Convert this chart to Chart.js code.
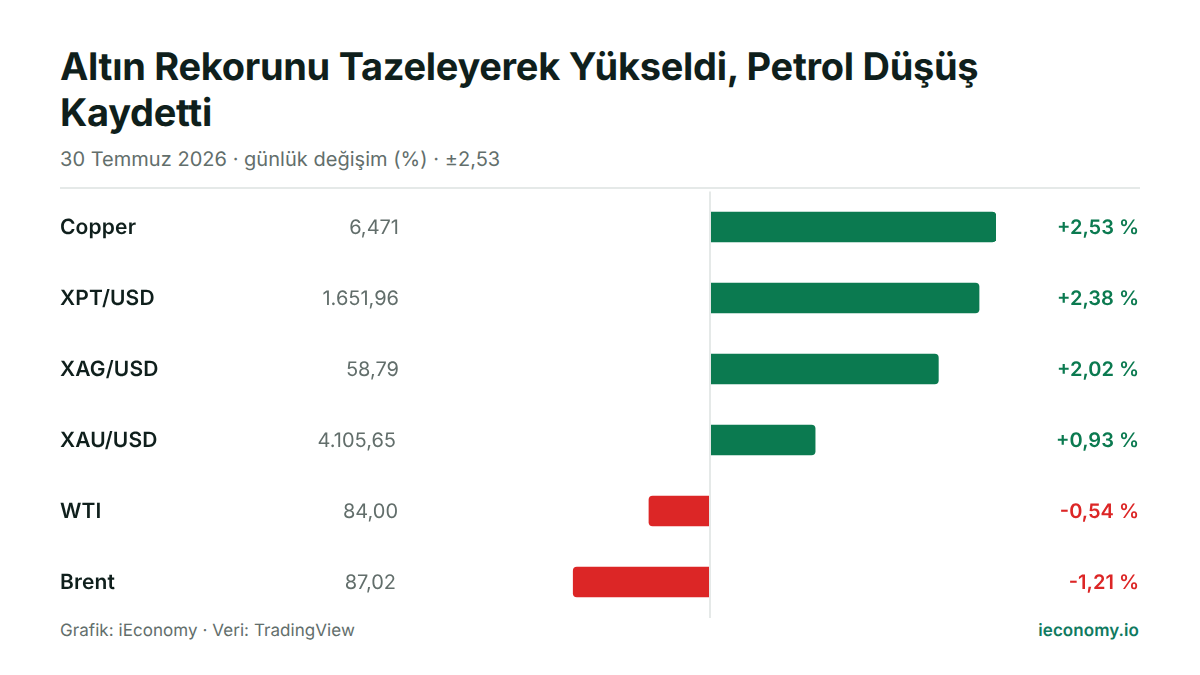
<!DOCTYPE html>
<html lang="tr">
<head>
<meta charset="utf-8">
<title>Altın Rekorunu Tazeleyerek Yükseldi, Petrol Düşüş Kaydetti</title>
<script src="https://cdn.jsdelivr.net/npm/chart.js@4"></script>
<style>
  html, body { margin: 0; padding: 0; background: #fff; }
  body { width: 1200px; height: 675px; position: relative; overflow: hidden; font-family: Inter, sans-serif; text-rendering: geometricPrecision; }
  h1 { position: absolute; left: 60px; top: 45px; width: 1000px; margin: 0; font-size: 38px; line-height: 45.6px; font-weight: 700; color: #0f1f1c; letter-spacing: -0.3px; }
  .sub { position: absolute; left: 60px; top: 147px; font-size: 20px; line-height: 24px; color: #626e6b; letter-spacing: 0.03px; }
  .rule { position: absolute; left: 60px; top: 187px; width: 1080px; height: 2px; background: #e5e9e8; }
  .src { position: absolute; left: 60px; top: 621px; font-size: 17px; line-height: 20px; color: #626e6b; letter-spacing: 0.06px; }
  .brand { position: absolute; right: 61px; top: 621px; font-size: 17px; line-height: 20px; font-weight: 600; color: #0f7a5f; letter-spacing: 0.06px; }
  #wrap { position: absolute; left: 0; top: 191px; width: 1200px; height: 427px; }
</style>
</head>
<body>
<h1>Altın Rekorunu Tazeleyerek Yükseldi, Petrol Düşüş Kaydetti</h1>
<div class="sub">30 Temmuz 2026 · günlük değişim (%) · ±2,53</div>
<div class="rule"></div>
<div id="wrap"><canvas id="chart"></canvas></div>
<div class="src">Grafik: iEconomy · Veri: TradingView</div>
<div class="brand">ieconomy.io</div>
<script>
const symbols = ['Copper', 'XPT/USD', 'XAG/USD', 'XAU/USD', 'WTI', 'Brent'];
const prices = ['6,471', '1.651,96', '58,79', '4.105,65', '84,00', '87,02'];
const changes = [2.53, 2.38, 2.02, 0.93, -0.54, -1.21];
const changeLabels = ['+2,53 %', '+2,38 %', '+2,02 %', '+0,93 %', '-0,54 %', '-1,21 %'];

const green = '#0b7a50';
const red = '#dc2626';

// the price column is not quite flush in the original
const priceRight = [399, 399, 399, 396, 398, 396];

// draws the name, price and change columns on the band centre of each row
const rowText = {
  id: 'rowText',
  afterDatasetsDraw(chart) {
    const { ctx, scales: { y } } = chart;
    ctx.save();
    ctx.textBaseline = 'middle';
    ctx.textRendering = 'geometricPrecision';
    symbols.forEach((name, i) => {
      const py = y.getPixelForValue(i) + 1;
      ctx.textAlign = 'left';
      ctx.font = '600 21px Inter';
      ctx.letterSpacing = '0.15px';
      ctx.fillStyle = '#0f1f1c';
      ctx.fillText(name, 60, py);
      ctx.letterSpacing = '0px';
      ctx.textAlign = 'right';
      ctx.font = '400 20px Inter';
      ctx.fillStyle = '#626e6b';
      ctx.fillText(prices[i], priceRight[i], py);
      ctx.font = '600 20px Inter';
      ctx.fillStyle = changes[i] >= 0 ? green : red;
      ctx.fillText(changeLabels[i], 1139, py);
    });
    ctx.restore();
  }
};

new Chart(document.getElementById('chart'), {
  type: 'bar',
  data: {
    labels: symbols,
    datasets: [{
      data: changes,
      backgroundColor: changes.map(v => (v >= 0 ? green : red)),
      borderRadius: 4,
      borderSkipped: 'start',
      categoryPercentage: 1,
      barThickness: 30
    }]
  },
  options: {
    indexAxis: 'y',
    responsive: true,
    maintainAspectRatio: false,
    animation: false,
    layout: { padding: { top: 0.5, bottom: 0.5, right: 204 } },
    plugins: { legend: { display: false }, tooltip: { enabled: false } },
    scales: {
      x: {
        display: true,
        position: 'bottom',
        min: -2.53,
        max: 2.53,
        afterFit: s => { s.height = 0; },
        ticks: { display: false },
        border: { display: false },
        grid: {
          z: 1,
          drawTicks: false,
          lineWidth: 2,
          color: c => (c.tick.value === 0 ? '#e5e9e8' : 'transparent')
        },
        afterBuildTicks: s => { s.ticks = [{ value: 0 }]; }
      },
      y: {
        display: true,
        ticks: { display: false },
        grid: { display: false },
        border: { display: false },
        afterFit: s => { s.width = 424; }
      }
    }
  },
  plugins: [rowText]
});
</script>
</body>
</html>
